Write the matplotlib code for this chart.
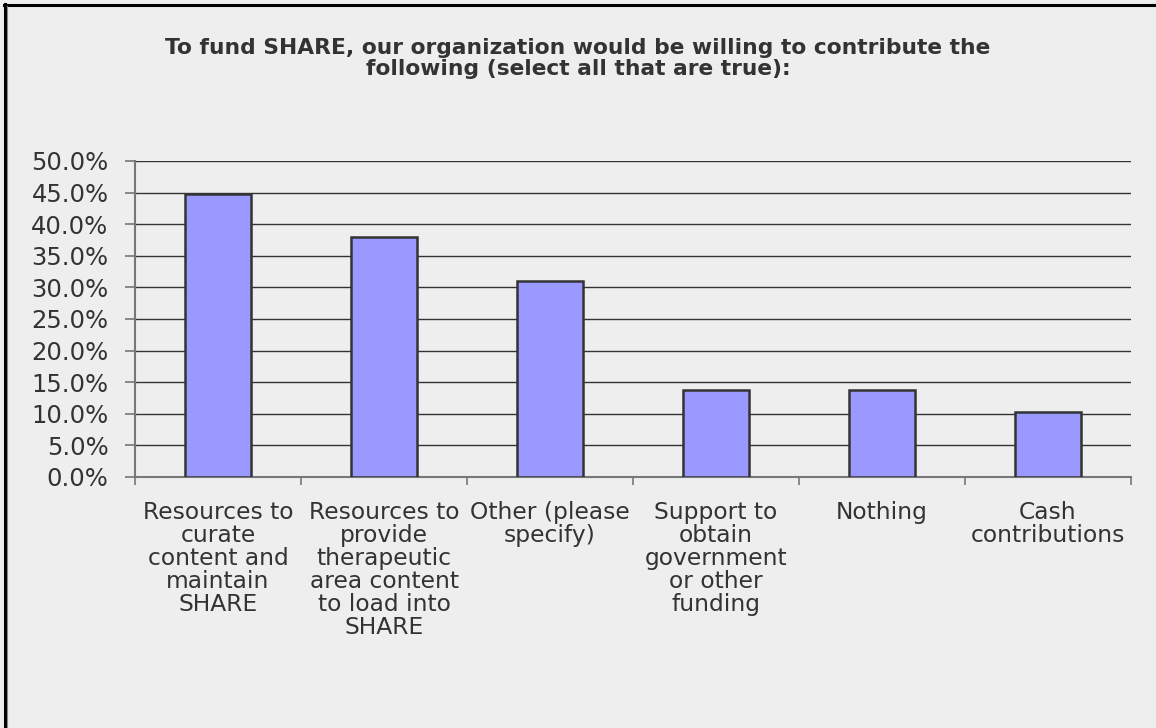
import matplotlib
matplotlib.use("Agg")
import matplotlib.pyplot as plt
from matplotlib.lines import Line2D
from matplotlib.ticker import FuncFormatter, MultipleLocator
import numpy as np

title = "To fund SHARE, our organization would be willing to contribute the\nfollowing (select all that are true):"
categories = [
    "Resources to\ncurate\ncontent and\nmaintain\nSHARE",
    "Resources to\nprovide\ntherapeutic\narea content\nto load into\nSHARE",
    "Other (please\nspecify)",
    "Support to\nobtain\ngovernment\nor other\nfunding",
    "Nothing",
    "Cash\ncontributions",
]
values = [44.8, 37.9, 31.0, 13.8, 13.8, 10.3]

plt.rcParams['font.family'] = ['DejaVu Sans']
bg = "#EEEEEE"
W, H = 1156, 728
fig = plt.figure(figsize=(W/100, H/100), dpi=100, facecolor=bg)
ax = fig.add_axes([135/W, 1-477/H, (1131-135)/W, (477-161)/H])
ax.set_facecolor(bg)

x = np.arange(len(categories))
ax.bar(x, values, width=0.4, color="#9999FF", edgecolor="#333333", linewidth=1.8, zorder=3)

ax.set_xlim(-0.5, len(categories)-0.5)
ax.set_ylim(0, 50)
ax.yaxis.set_major_locator(MultipleLocator(5))
ax.yaxis.set_major_formatter(FuncFormatter(lambda v, p: f"{v:.1f}%"))
ax.yaxis.grid(True, color="#333333", linewidth=1.0, zorder=1)
ax.set_axisbelow(True)

ax.set_xticks(x)
ax.set_xticklabels(categories, fontsize=16.8, color="#333333", linespacing=1.0)
ax.set_xticks(np.arange(-0.5, len(categories)), minor=True)
ax.tick_params(axis='x', which='major', length=0, pad=17)
ax.tick_params(axis='x', which='minor', length=6, direction='out', color="#777777", width=1.2)
ax.tick_params(axis='y', length=7, direction='out', color="#777777", width=1.2,
               labelsize=17.5, labelcolor="#333333", pad=12)

for s in ['top', 'right']:
    ax.spines[s].set_visible(False)
for s in ['left', 'bottom']:
    ax.spines[s].set_color("#777777")
    ax.spines[s].set_linewidth(1.5)

fig.text(0.5, 1-58.5/H, title, ha='center', va='center', fontsize=15.7, fontweight='bold',
         color="#333333", linespacing=1.05)

# outer frame lines (top and left only, as in the reference)
fig.add_artist(Line2D([4/W, 1], [1-5/H, 1-5/H], transform=fig.transFigure, color="black", linewidth=2.2))
fig.add_artist(Line2D([5/W, 5/W], [0, 1-4/H], transform=fig.transFigure, color="black", linewidth=2.2))
fig.add_artist(Line2D([7/W, 7/W], [0, 1-6/H], transform=fig.transFigure, color="#888888", linewidth=0.8))

fig.savefig("out.png", dpi=100, facecolor=bg)
